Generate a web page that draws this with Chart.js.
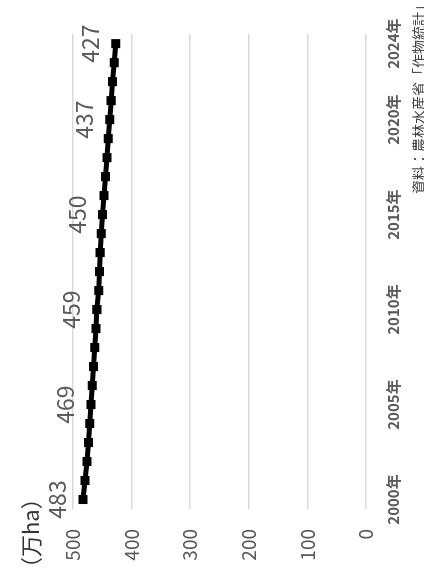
<!DOCTYPE html>
<html>
<head>
<meta charset="utf-8">
<script src="https://cdn.jsdelivr.net/npm/chart.js@4"></script>
<style>
  html, body { margin: 0; padding: 0; width: 424px; height: 583px; overflow: hidden; background: #fff; }
  #wrap {
    position: absolute; left: 0; top: 0; width: 583px; height: 424px;
    transform-origin: 0 0; transform: translate(0, 583px) rotate(-90deg);
    font-family: 'Noto Sans CJK JP', 'Noto Sans', sans-serif;
  }
  #unit { position: absolute; left: 4px; top: 18px; font-size: 22px; line-height: 1; color: #333; }
  #source { position: absolute; right: -2px; top: 411px; font-size: 14px; line-height: 1; color: #404040; white-space: nowrap; }
</style>
</head>
<body>
<div id="wrap">
  <canvas id="chart" width="583" height="424"></canvas>
  <div id="unit">（万ha）</div>
  <div id="source">資料：農林水産省「作物統計」</div>
</div>
<script>
const years = ['2000年', '2001年', '2002年', '2003年', '2004年', '2005年', '2006年', '2007年', '2008年', '2009年',
  '2010年', '2011年', '2012年', '2013年', '2014年', '2015年', '2016年', '2017年', '2018年', '2019年',
  '2020年', '2021年', '2022年', '2023年', '2024年'];
const area = [483.0, 479.4, 476.2, 473.6, 471.4, 469.2, 467.1, 465.0, 462.8, 460.9,
  459.3, 456.1, 454.9, 453.7, 451.8, 449.6, 447.1, 444.4, 442.0, 439.7,
  437.2, 434.9, 432.5, 429.7, 427.2];
const shownIdx = [0, 5, 10, 15, 20, 24];

const font = "'Noto Sans CJK JP', 'Noto Sans', sans-serif";

// value labels above the marked years
const pointLabels = {
  id: 'pointLabels',
  afterDatasetsDraw(chart) {
    const ctx = chart.ctx;
    const pts = chart.getDatasetMeta(0).data;
    ctx.save();
    ctx.font = '23px ' + font;
    ctx.fillStyle = '#595959';
    ctx.textAlign = 'center';
    ctx.textBaseline = 'alphabetic';
    shownIdx.forEach(i => {
      ctx.fillText(Math.round(area[i]), pts[i].x, pts[i].y - 17);
    });
    ctx.restore();
  }
};

new Chart(document.getElementById('chart'), {
  type: 'line',
  data: {
    labels: years,
    datasets: [{
      data: area,
      borderColor: '#000',
      backgroundColor: '#000',
      borderWidth: 5,
      pointStyle: 'rect',
      pointRadius: 5,
      pointBorderWidth: 2,
      pointBackgroundColor: '#000',
      pointBorderColor: '#000',
      tension: 0
    }]
  },
  options: {
    responsive: false,
    animation: false,
    layout: { padding: { top: 73, right: 22, left: 0, bottom: 0 } },
    plugins: { legend: { display: false }, tooltip: { enabled: false } },
    scales: {
      x: {
        offset: true,
        grid: { display: false, drawTicks: false },
        border: { display: false },
        afterFit: s => { s.height = 58; },
        ticks: {
          autoSkip: false,
          maxRotation: 0,
          padding: 18,
          color: '#595959',
          font: { family: font, size: 15, weight: 'bold' },
          callback: (v, i) => shownIdx.includes(i) ? years[i] : ''
        }
      },
      y: {
        min: 0,
        max: 500,
        grid: { color: '#d9d9d9', lineWidth: 1.5, drawTicks: false },
        border: { display: false },
        afterFit: s => { s.width = 74; },
        ticks: {
          stepSize: 100,
          padding: 20,
          color: '#595959',
          font: { family: font, size: 19 }
        }
      }
    }
  },
  plugins: [pointLabels]
});
</script>
</body>
</html>
